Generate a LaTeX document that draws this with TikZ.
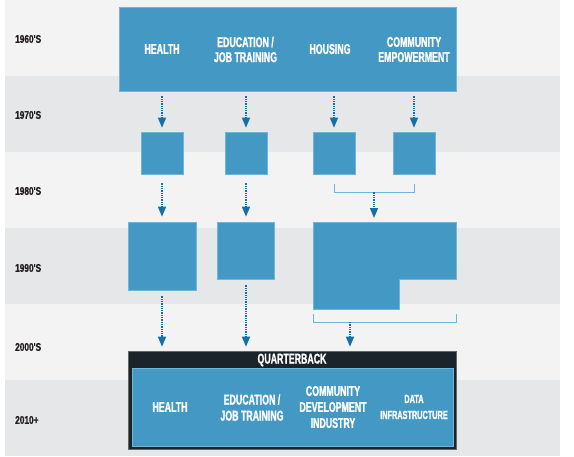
\documentclass[tikz,border=0pt]{standalone}
\usepackage{fontspec}
\setmainfont{Liberation Sans}
\newfontfamily\capfont[FakeStretch=0.62,FakeBold=1.2]{Liberation Sans}
\newfontfamily\yearfont[FakeStretch=0.74,FakeBold=0.8]{Liberation Sans}
\usetikzlibrary{arrows.meta,positioning,calc}
\definecolor{bandlight}{HTML}{F3F3F3}
\definecolor{banddark}{HTML}{E6E7E8}
\definecolor{boxblue}{HTML}{4399C3}
\definecolor{boxedge}{HTML}{6DB5DA}
\definecolor{arrowblue}{HTML}{1470A6}
\definecolor{qbdark}{HTML}{1B232B}
\definecolor{yeartext}{HTML}{231F20}

\begin{document}
\begin{tikzpicture}[x=1pt,y=-1pt,
  lbl/.style={font=\capfont\bfseries\fontsize{14.2}{15}\selectfont,text=white,align=center,inner sep=0pt},
  yr/.style={font=\yearfont\bfseries\fontsize{11.2}{12}\selectfont,text=yeartext,anchor=west,inner sep=0pt},
  sq/.style={fill=boxblue,draw=boxedge,line width=0.6pt,inner sep=0pt},
  flow/.style={arrowblue,line width=1.3pt,densely dotted,-{Triangle[length=10pt,width=8pt]}},
  brk/.style={draw=boxedge,line width=1pt}]
  \useasboundingbox (0,0) rectangle (574,456);

  % decade bands
  \foreach \top/\col in {0/bandlight,76/banddark,152/bandlight,228/banddark,304/bandlight,380/banddark}
    \fill[\col] (5,\top) rectangle (560,\top+76);

  \node[yr] (y60) at (15,39)  {1960'S};
  \node[yr] (y70) at (15,115) {1970'S};
  \node[yr] (y80) at (15,191) {1980'S};
  \node[yr] (y90) at (15,268) {1990'S};
  \node[yr] (y00) at (15,347) {2000'S};
  \node[yr] (y10) at (15,420) {2010+};

  % 1960s
  \node[sq,minimum width=337pt,minimum height=84pt] (top) at (287.5,49) {};
  \node[lbl] (t1) at (162,49)   {HEALTH};
  \node[lbl] (t2) at (245.5,49.5) {EDUCATION /\\JOB TRAINING};
  \node[lbl] (t3) at (330,49)   {HOUSING};
  \node[lbl] (t4) at (414,49.5) {COMMUNITY\\EMPOWERMENT};

  % 1970s
  \node[sq,minimum width=42pt,minimum height=42pt] (h70) at (162,153)   {};
  \node[sq,minimum width=42pt,minimum height=42pt] (e70) at (246,153)   {};
  \node[sq,minimum width=42pt,minimum height=42pt] (s70) at (334,153)   {};
  \node[sq,minimum width=42pt,minimum height=42pt] (c70) at (414,153) {};

  \draw[flow] ($(top.south -| h70.north)+(0,5)$) -- ($(h70.north)+(0,-4)$);
  \draw[flow] ($(top.south -| e70.north)+(0,5)$) -- ($(e70.north)+(0,-4)$);
  \draw[flow] ($(top.south -| s70.north)+(0,5)$) -- ($(s70.north)+(0,-4)$);
  \draw[flow] ($(top.south -| c70.north)+(0,5)$) -- ($(c70.north)+(0,-4)$);

  % 1990s
  \node[sq,minimum width=68pt,minimum height=68pt] (h90) at (162,256)   {};
  \node[sq,minimum width=57pt,minimum height=57pt] (e90) at (246,250.5) {};
  \coordinate (s90) at (313,222);
  \filldraw[sq] (s90) -- (456,222) -- (456,279) -- (399,279) -- (399,309) -- (313,309) -- cycle;

  \draw[flow] ($(h70.south)+(0,9)$) -- ($(h90.north)+(0,-5)$);
  \draw[flow] ($(e70.south)+(0,9)$) -- ($(e90.north)+(0,-5)$);

  % join of housing and community
  \draw[brk] ($(s70.south)+(0,10)$) -- ($(s70.south)+(0,18)$) -- ($(c70.south)+(0,18)$) -- ($(c70.south)+(0,10)$);
  \coordinate (j80) at ($(s70.south)!0.5!(c70.south)+(0,18)$);
  \draw[flow] (j80) -- ($(j80 |- s90)+(0,-4)$);

  % 2010+
  \node[fill=qbdark,draw=black!60,line width=0.6pt,minimum width=328pt,minimum height=98pt] (qb) at (292,400) {};
  \node[lbl] (qbt) at (292,360) {QUARTERBACK};
  \node[sq,minimum width=321pt,minimum height=78pt] (inner) at (292.5,407) {};
  \node[lbl,font=\capfont\bfseries\fontsize{14.2}{16}\selectfont] (b1) at (170,407)   {HEALTH};
  \node[lbl,font=\capfont\bfseries\fontsize{14.2}{16}\selectfont] (b2) at (252,407.5) {EDUCATION /\\JOB TRAINING};
  \node[lbl,font=\capfont\bfseries\fontsize{14.2}{16}\selectfont] (b3) at (333,407)   {COMMUNITY\\DEVELOPMENT\\INDUSTRY};
  \node[lbl,font=\capfont\bfseries\fontsize{11.8}{16}\selectfont] (b4) at (414,407)   {DATA\\INFRASTRUCTURE};

  \draw[flow] ($(h90.south)+(0,6)$) -- ($(h90.south |- qb.north)+(0,-4)$);
  \draw[flow] ($(e90.south)+(0,6)$) -- ($(e90.south |- qb.north)+(0,-4)$);

  % join of the 1990s block
  \draw[brk] (313,314) -- (313,322) -- (456,322) -- (456,314);
  \coordinate (j00) at (350,322);
  \draw[flow] (j00) -- ($(j00 |- qb.north)+(0,-4)$);
\end{tikzpicture}
\end{document}
